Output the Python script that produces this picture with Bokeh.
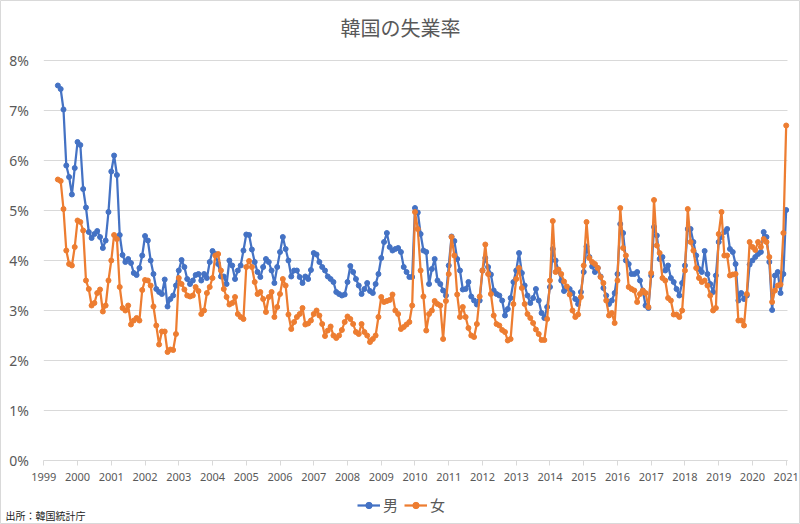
from bokeh.plotting import figure
from bokeh.models import Range1d, FixedTicker, Legend, LegendItem, LinearAxis
from bokeh.core.properties import value
from bokeh.embed import file_html
from bokeh.resources import INLINE

TITLE = "韓国の失業率"
SOURCE = "出所：韓国統計庁"
START_YEAR = 1999
START_MONTH = 6  # first observation: June 1999, monthly

men_rate = [
    7.5, 7.43, 7.02, 5.9, 5.67, 5.32, 5.85,                                # 1999
    6.37, 6.31, 5.43, 5.06, 4.57, 4.45, 4.53, 4.59, 4.47, 4.25, 4.4, 4.97,   # 2000
    5.78, 6.1, 5.71, 4.51, 4.11, 3.97, 4.03, 3.95, 3.75, 3.71, 3.85, 4.1,    # 2001
    4.49, 4.4, 4.0, 3.73, 3.43, 3.37, 3.33, 3.62, 3.08, 3.23, 3.3, 3.5,      # 2002
    3.8, 4.01, 3.87, 3.63, 3.53, 3.6, 3.71, 3.73, 3.6, 3.73, 3.65, 3.97,     # 2003
    4.19, 4.13, 3.93, 3.68, 3.68, 3.53, 4.0, 3.9, 3.63, 3.8, 3.9, 4.2,       # 2004
    4.52, 4.51, 4.22, 3.97, 3.77, 3.67, 3.87, 4.03, 3.97, 3.8, 3.55, 3.87,   # 2005
    4.17, 4.47, 4.23, 4.0, 3.68, 3.8, 3.8, 3.67, 3.55, 3.68, 3.63, 3.81,     # 2006
    4.15, 4.12, 3.97, 3.87, 3.8, 3.68, 3.63, 3.57, 3.37, 3.33, 3.3, 3.32,    # 2007
    3.57, 3.89, 3.77, 3.63, 3.5, 3.33, 3.43, 3.55, 3.39, 3.35, 3.53, 3.73,   # 2008
    4.05, 4.37, 4.55, 4.27, 4.2, 4.23, 4.25, 4.17, 3.87, 3.77, 3.67, 3.67,   # 2009
    5.05, 4.96, 4.53, 4.2, 4.17, 3.53, 3.83, 4.03, 3.6, 3.53, 3.4, 3.3,      # 2010
    3.9, 4.48, 4.39, 4.03, 3.8, 3.42, 3.43, 3.57, 3.28, 3.2, 3.12, 3.2,      # 2011
    3.8, 4.05, 3.87, 3.72, 3.4, 3.33, 3.3, 3.2, 2.9, 3.03, 3.25, 3.57,       # 2012
    3.8, 4.15, 3.75, 3.5, 3.3, 3.15, 3.25, 3.43, 3.2, 2.95, 2.85, 3.07,      # 2013
    3.47, 4.23, 4.0, 3.8, 3.6, 3.39, 3.45, 3.43, 3.35, 3.23, 3.13, 3.37,     # 2014
    3.77, 4.28, 4.07, 3.88, 3.77, 3.85, 3.68, 3.45, 3.3, 3.13, 3.2, 3.35,    # 2015
    3.73, 4.73, 4.55, 4.0, 3.93, 3.73, 3.73, 3.77, 3.6, 3.4, 3.1, 3.05,      # 2016
    3.7, 4.67, 4.5, 4.03, 4.07, 3.8, 3.9, 3.65, 3.57, 3.43, 3.3, 3.55,       # 2017
    3.9, 4.63, 4.63, 4.37, 4.1, 3.83, 3.77, 4.19, 3.73, 3.53, 3.37, 3.7,     # 2018
    4.37, 4.47, 4.57, 4.63, 4.23, 4.17, 3.93, 3.2, 3.35, 3.23, 3.3, 3.92,    # 2019
    4.0, 4.07, 4.13, 4.17, 4.57, 4.47, 3.97, 3.01, 3.7, 3.77, 3.35, 3.73,    # 2020
    5.01,                                                                    # 2021
]

women_rate = [
    5.62, 5.59, 5.03, 4.2, 3.93, 3.9, 4.27,                                  # 1999
    4.8, 4.77, 4.6, 3.6, 3.43, 3.1, 3.15, 3.35, 3.42, 2.98, 3.1, 3.6,        # 2000
    4.0, 4.51, 4.43, 3.47, 3.05, 3.0, 3.1, 2.72, 2.8, 2.85, 2.8, 3.41,       # 2001
    3.61, 3.6, 3.5, 3.08, 2.7, 2.32, 2.58, 2.58, 2.17, 2.22, 2.21, 2.53,     # 2002
    3.65, 3.53, 3.42, 3.3, 3.28, 3.3, 3.47, 3.39, 2.93, 3.0, 3.35, 3.47,     # 2003
    3.65, 4.1, 4.13, 3.8, 3.43, 3.27, 3.12, 3.15, 3.27, 2.93, 2.87, 2.83,    # 2004
    3.87, 3.99, 3.87, 3.57, 3.33, 3.37, 3.23, 2.97, 3.27, 3.37, 2.87, 3.07,  # 2005
    3.33, 3.63, 3.5, 2.92, 2.63, 2.77, 2.87, 2.93, 3.05, 2.72, 2.74, 2.8,    # 2006
    2.93, 3.0, 2.9, 2.73, 2.49, 2.6, 2.68, 2.5, 2.45, 2.5, 2.61, 2.77,       # 2007
    2.88, 2.83, 2.73, 2.57, 2.53, 2.73, 2.57, 2.5, 2.37, 2.43, 2.5, 2.87,    # 2008
    3.27, 3.17, 3.19, 3.21, 3.32, 3.0, 2.93, 2.63, 2.67, 2.72, 2.77, 3.1,    # 2009
    4.97, 4.63, 3.8, 3.28, 2.6, 2.93, 3.0, 3.19, 3.13, 3.1, 2.43, 3.19,      # 2010
    3.73, 4.47, 4.1, 3.32, 2.87, 3.07, 2.87, 2.65, 2.5, 2.47, 2.73, 3.28,    # 2011
    3.8, 4.32, 3.73, 3.33, 2.9, 2.73, 2.7, 2.61, 2.57, 2.4, 2.43, 3.13,      # 2012
    3.63, 3.85, 3.45, 3.13, 2.93, 2.85, 2.75, 2.62, 2.53, 2.41, 2.41, 2.83,  # 2013
    3.6, 4.79, 3.77, 3.82, 3.73, 3.58, 3.48, 3.32, 3.0, 2.87, 2.92, 3.27,    # 2014
    3.9, 4.77, 4.05, 3.97, 3.93, 3.85, 3.67, 3.55, 3.2, 2.9, 2.95, 2.75,     # 2015
    3.6, 5.05, 4.25, 4.1, 3.47, 3.43, 3.4, 3.17, 3.33, 3.4, 3.35, 3.07,      # 2016
    3.75, 5.21, 4.3, 4.15, 3.65, 3.6, 3.25, 3.2, 2.92, 2.92, 2.87, 3.0,      # 2017
    3.8, 5.03, 4.37, 4.2, 3.85, 3.65, 3.57, 3.6, 3.5, 3.3, 3.0, 3.05,        # 2018
    4.53, 4.97, 4.1, 4.1, 3.7, 3.72, 3.73, 2.8, 2.8, 2.7, 3.33, 4.37,        # 2019
    4.27, 4.21, 4.37, 4.27, 4.43, 4.37, 4.07, 3.17, 3.4, 3.5, 3.52, 4.55,    # 2020
    6.7,                                                                     # 2021
]

year_ticks = list(range(1999, 2022))
pct_ticks = list(range(0, 9))

# time position of each monthly observation, in fractional years
t = [START_YEAR + (START_MONTH - 1 + i) / 12 for i in range(len(men_rate))]

BLUE = "#4472C4"
ORANGE = "#ED7D31"
GRID = "#D9D9D9"
TXT = "#595959"

W, H = 800, 524
PX_YEAR = 33.745          # pixels per year
PX_PCT = 50.0             # pixels per percentage point
X0 = year_ticks[0] - 43.3 / PX_YEAR
X1 = X0 + W / PX_YEAR
Y1 = pct_ticks[-1] + 60 / PX_PCT
Y0 = Y1 - H / PX_PCT
GRID_END = year_ticks[-1] + 1.3 / PX_YEAR

p = figure(width=W, height=H, output_backend="svg", toolbar_location=None,
           x_range=Range1d(X0, X1), y_range=Range1d(Y0, Y1),
           x_axis_location=None, y_axis_location=None,
           min_border_left=0, min_border_right=0, min_border_top=0,
           min_border_bottom=0)
p.outline_line_color = GRID
p.outline_line_width = 1
p.background_fill_color = "white"
p.border_fill_color = "white"
p.xgrid.visible = False
p.ygrid.visible = False

# horizontal gridlines spanning the plot area only
p.segment(x0=[year_ticks[0]] * len(pct_ticks), x1=[GRID_END] * len(pct_ticks),
          y0=pct_ticks, y1=pct_ticks, line_color=GRID, line_width=1)

xa = LinearAxis(fixed_location=0, ticker=FixedTicker(ticks=year_ticks),
                bounds=(year_ticks[0], GRID_END))
xa.axis_line_color = GRID
xa.major_tick_line_color = GRID
xa.major_tick_out = 5
xa.major_tick_in = 0
xa.minor_tick_line_color = None
xa.major_label_text_font = "Noto Sans"
xa.major_label_text_font_size = "11px"
xa.major_label_text_color = TXT
xa.major_label_standoff = 7
p.add_layout(xa, "below")

ya = LinearAxis(fixed_location=year_ticks[0], ticker=FixedTicker(ticks=pct_ticks),
                bounds=(0, pct_ticks[-1]))
ya.major_label_overrides = {v: f"{v}%" for v in pct_ticks}
ya.axis_line_color = None
ya.major_tick_line_color = None
ya.major_tick_out = 0
ya.major_tick_in = 0
ya.minor_tick_line_color = None
ya.major_label_text_font = "Noto Sans"
ya.major_label_text_font_size = "14px"
ya.major_label_text_color = TXT
ya.major_label_standoff = 15
p.add_layout(ya, "left")

l1 = p.line(t, men_rate, line_color=BLUE, line_width=2.25)
s1 = p.scatter(t, men_rate, size=5, fill_color=BLUE, line_color=BLUE)
l2 = p.line(t, women_rate, line_color=ORANGE, line_width=2.25)
s2 = p.scatter(t, women_rate, size=5, fill_color=ORANGE, line_color=ORANGE)

legend = Legend(items=[LegendItem(label="男", renderers=[l1, s1]),
                       LegendItem(label="女", renderers=[l2, s2])],
                orientation="horizontal", location=(357, 9),
                label_text_font="Noto Sans CJK JP", label_text_font_size="15px",
                label_text_color=TXT, glyph_width=23, glyph_height=16,
                label_height=16, label_width=15, label_standoff=3, spacing=6,
                padding=0, margin=0, border_line_color=None,
                background_fill_alpha=0)
p.add_layout(legend)

p.text(x=[(X0 + X1) / 2], y=[pct_ticks[-1] + 33 / PX_PCT], text=[TITLE],
       text_align="center", text_baseline="middle",
       text_font=value("Noto Sans CJK JP"), text_font_size="20px",
       text_color=TXT)
p.text(x=[X0 + 5 / PX_YEAR], y=[-55 / PX_PCT], text=[SOURCE],
       text_align="left", text_baseline="middle",
       text_font=value("Noto Sans CJK JP"), text_font_size="10px",
       text_color="#222222")

open("out.html", "w").write(file_html(p, INLINE))
